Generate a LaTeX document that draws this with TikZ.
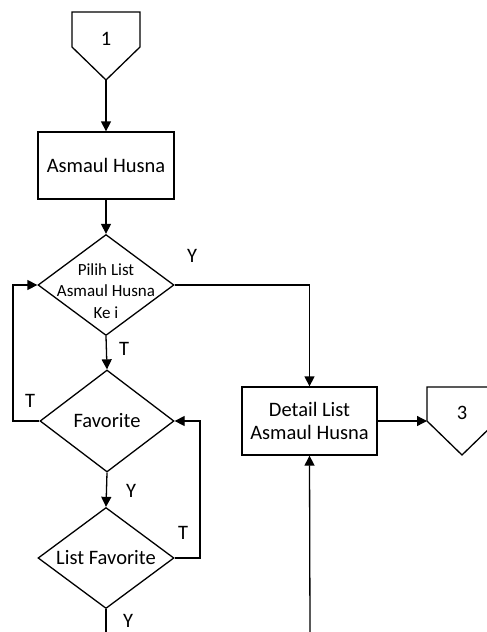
\documentclass[tikz,border=0pt]{standalone}
\usepackage{fontspec}
\setmainfont{Carlito}
\usetikzlibrary{shapes.geometric,arrows.meta}
\tikzset{
  ln/.style={line width=1.3pt},
  arr/.style={ln,-{Triangle[length=10pt,width=10pt]}},
  procbox/.style={draw,ln,rectangle,inner sep=0pt,align=center,font=\fontsize{20.5}{23}\selectfont},
  decide/.style={draw,ln,diamond,inner sep=0pt},
  txt/.style={inner sep=0pt,align=center,font=\fontsize{20.5}{23}\selectfont},
  lbl/.style={font=\fontsize{20.5}{23}\selectfont,inner sep=0pt},
  offpage/.style={draw,ln,line join=miter}
}
\begin{document}
\begin{tikzpicture}[x=1pt,y=-1pt]
\clip (0,0) rectangle (487,632);
\fill[white] (0,0) rectangle (487,632);
% off-page connector 1
\draw[offpage] (72,12) -- (140,12) -- (140,47) -- (106,80) -- (72,47) -- cycle;
\node[lbl] (n1) at (106,39) {1};
\coordinate (c1) at (106,80);
% boxes
\node[procbox,minimum width=136pt,minimum height=67pt] (b1) at (106,165.5) {Asmaul Husna};
\node[decide,minimum width=136pt,minimum height=101pt] (d1) at (106,285) {};
\node[txt,font=\fontsize{17}{21.5}\selectfont] (d1t) at (106,291) {Pilih List\\Asmaul Husna\\Ke i};
\node[decide,minimum width=134pt,minimum height=102pt] (fav) at (107,421) {};
\node[txt] (favt) at (107,421) {Favorite};
\node[decide,minimum width=136pt,minimum height=101pt] (lf) at (106,558) {};
\node[txt] (lft) at (106,558) {List Favorite};
\node[procbox,minimum width=135pt,minimum height=68pt] (det) at (309.5,421) {Detail List\\Asmaul Husna};
% off-page connector 3
\draw[offpage] (427,387) -- (497,387) -- (497,421) -- (462,455) -- (427,421) -- cycle;
\node[lbl] (n3) at (462,413) {3};
\coordinate (c3) at (427,421);
% free ends at the bottom
\coordinate (bl) at (106,632);
\coordinate (br) at (310,632);
\coordinate (lx) at (13,421);
\coordinate (rx) at (200,558);
% connectors
\draw[arr] (c1) -- (b1.north);
\draw[arr] (b1.south) -- (d1.north);
\draw[arr] (d1.east) -| (det.north);
\draw[arr] (d1.south) -- (fav.north);
\draw[arr] (fav.west) -- (lx) |- (d1.west);
\draw[arr] (fav.south) -- (lf.north);
\draw[arr] (lf.east) -- (rx) |- (fav.east);
\draw[ln] (lf.south) -- (bl);
\draw[arr] (br) -- (det.south);
\draw[arr] (det.east) -- (c3);
% labels
\node[lbl] (ly1) at (192,256) {Y};
\node[lbl] (lt1) at (124,349) {T};
\node[lbl] (lt2) at (30,401) {T};
\node[lbl] (ly2) at (131,491) {Y};
\node[lbl] (lt3) at (183,533) {T};
\node[lbl] (ly3) at (128,621) {Y};
\end{tikzpicture}
\end{document}
